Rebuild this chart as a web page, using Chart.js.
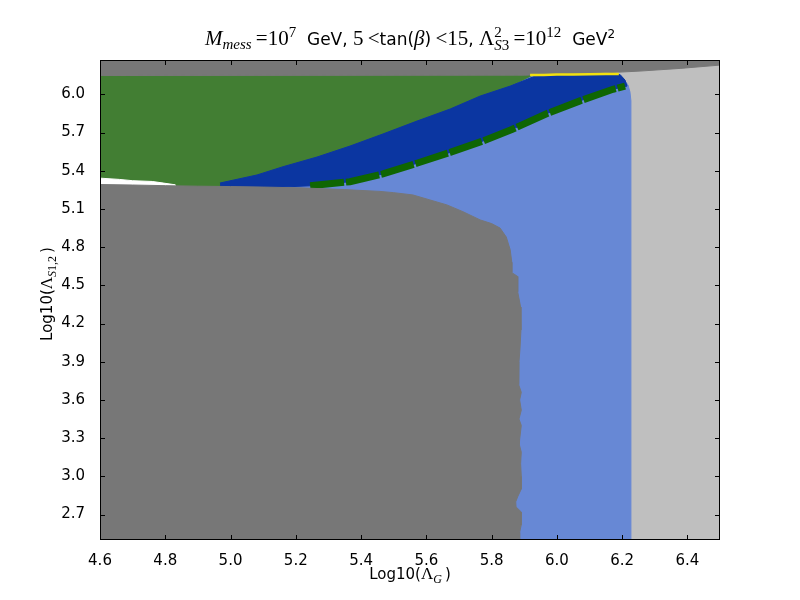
<!DOCTYPE html>
<html>
<head>
<meta charset="utf-8">
<script src="https://cdn.jsdelivr.net/npm/chart.js@4.4.1/dist/chart.umd.min.js"></script>
<style>
  html, body { margin: 0; padding: 0; background: #fff; }
</style>
</head>
<body>
<canvas id="chart" width="800" height="600"></canvas>
<script>
// axes
const xRange = [4.6, 6.5];
const yRange = [2.5, 6.27];
const xTicks = [4.6, 4.8, 5.0, 5.2, 5.4, 5.6, 5.8, 6.0, 6.2, 6.4];
const yTicks = [2.7, 3.0, 3.3, 3.6, 3.9, 4.2, 4.5, 4.8, 5.1, 5.4, 5.7, 6.0];

// region outlines: [log10(Lambda_G), log10(Lambda_S12)]
const lightGreyRegion = [[4.6,2.5],[6.5,2.5],[6.5,6.27],[4.6,6.27]];
const lightBlueRegion = [[4.6,2.5],[6.226,2.5],[6.227,5.95],[6.224,6.02],[6.218,6.073],[6.205,6.12],[6.19,6.155],[4.6,6.155]];
const greenRegion = [[4.6,6.16],[5.933,6.16],[5.857,6.065],[5.765,5.987],[5.673,5.885],[5.571,5.790],[5.467,5.689],
  [5.366,5.594],[5.265,5.508],[5.161,5.432],[5.081,5.367],[4.968,5.304],[4.968,5.2],[4.6,5.2]];
const blueBand = [[4.968,5.304],[5.081,5.367],[5.161,5.432],[5.265,5.508],[5.366,5.594],[5.467,5.689],[5.571,5.790],
  [5.673,5.885],[5.765,5.987],[5.857,6.065],[5.933,6.143],[6.0,6.155],[6.194,6.155],[6.209,6.112],[6.215,6.065],
  [6.172,6.040],[6.071,5.949],[5.970,5.850],[5.862,5.724],[5.774,5.634],[5.673,5.544],[5.571,5.459],[5.467,5.375],
  [5.366,5.314],[5.244,5.282],[4.968,5.25]];
const darkGreenBand = [[5.244,5.282],[5.366,5.314],[5.467,5.375],[5.571,5.459],[5.673,5.544],[5.774,5.634],
  [5.862,5.724],[5.970,5.850],[6.071,5.949],[6.172,6.040],[6.209,6.065]];
const whiteStrip = [[4.6,5.342],[4.66,5.332],[4.7,5.322],[4.76,5.316],[4.79,5.305],[4.83,5.29],[4.83,5.2],[4.6,5.2]];
const greyRegion = [[4.6,2.5],[4.6,5.292],[4.7,5.288],[4.8,5.283],[4.9,5.279],[5.0,5.276],[5.1,5.272],[5.213,5.266],
  [5.35,5.252],[5.458,5.238],[5.50,5.228],[5.559,5.21],[5.611,5.171],[5.663,5.132],[5.712,5.079],[5.765,5.014],
  [5.80,4.985],[5.826,4.95],[5.845,4.88],[5.857,4.78],[5.862,4.68],[5.862,4.60],[5.880,4.57],[5.880,4.45],
  [5.889,4.33],[5.890,4.15],[5.887,4.0],[5.884,3.9],[5.882,3.78],[5.884,3.72],[5.891,3.66],[5.886,3.6],
  [5.891,3.52],[5.884,3.45],[5.891,3.40],[5.886,3.29],[5.885,3.25],[5.891,3.19],[5.889,3.1],[5.891,3.0],
  [5.891,2.9],[5.880,2.84],[5.874,2.80],[5.875,2.76],[5.891,2.72],[5.891,2.62],[5.886,2.56],[5.886,2.5]];
const topStrip = [[4.6,6.27],[6.5,6.27],[6.5,6.23],[6.378,6.204],[6.255,6.183],[6.132,6.167],[5.9,6.151],[4.6,6.148]];
const yellowEdge = [[5.918,6.152],[5.96,6.153],[6.0,6.156],[6.05,6.156],[6.1,6.158],[6.15,6.16],[6.19,6.16]];

const serif = '"Liberation Serif"';
const sans = '"DejaVu Sans"';

function region(points, color) {
  return {
    data: points.map(p => ({ x: p[0], y: p[1] })),
    backgroundColor: color,
    borderColor: color,
    borderWidth: 1,
    fill: 'shape',
    pointRadius: 0,
    tension: 0
  };
}

function edge(points, color, width, dash) {
  return {
    data: points.map(p => ({ x: p[0], y: p[1] })),
    borderColor: color,
    borderWidth: width,
    borderDash: dash || [],
    borderCapStyle: 'butt',
    fill: false,
    pointRadius: 0,
    tension: 0
  };
}

// bottom layer first
const layers = [
  region(lightGreyRegion, '#bfbfbf'),
  region(lightBlueRegion, '#6788d5'),
  region(greenRegion, '#427e33'),
  region(blueBand, '#0b36a1'),
  edge(darkGreenBand, '#0f6602', 7, [34, 2]),
  region(whiteStrip, '#ffffff'),
  region(greyRegion, '#777777'),
  region(topStrip, '#777777'),
  edge(yellowEdge, '#f2e10e', 2.5)
];
layers.forEach((d, i) => { d.order = layers.length - i; });

function drawRich(ctx, parts, x, y, rotate) {
  ctx.save();
  let total = 0;
  parts.forEach(p => {
    ctx.font = p[1];
    p.w = ctx.measureText(p[0]).width;
    if (!p[3]) total += p.w;
  });
  ctx.translate(x, y);
  if (rotate) ctx.rotate(-Math.PI / 2);
  ctx.textAlign = 'left';
  ctx.textBaseline = 'alphabetic';
  ctx.fillStyle = '#000';
  let cx = -total / 2;
  parts.forEach(p => {
    ctx.font = p[1];
    ctx.fillText(p[0], cx, p[2] || 0);
    if (!p[3]) cx += p.w;
  });
  ctx.restore();
}

const frameAndText = {
  id: 'frameAndText',
  afterDraw(chart) {
    const ctx = chart.ctx;
    const a = chart.chartArea;
    const sx = chart.scales.x, sy = chart.scales.y;
    ctx.save();
    ctx.strokeStyle = '#000';
    ctx.lineWidth = 1;
    ctx.beginPath();
    xTicks.forEach(v => {
      const px = Math.round(sx.getPixelForValue(v)) + 0.5;
      ctx.moveTo(px, a.bottom); ctx.lineTo(px, a.bottom - 5);
      ctx.moveTo(px, a.top); ctx.lineTo(px, a.top + 5);
    });
    yTicks.forEach(v => {
      const py = Math.round(sy.getPixelForValue(v)) + 0.5;
      ctx.moveTo(a.left, py); ctx.lineTo(a.left + 5, py);
      ctx.moveTo(a.right, py); ctx.lineTo(a.right - 5, py);
    });
    ctx.stroke();
    ctx.strokeRect(a.left + 0.5, a.top + 0.5, a.right - a.left - 1, a.bottom - a.top - 1);
    ctx.restore();

    const T = `21px ${serif}`, Ti = `italic 21px ${serif}`, s = `15px ${serif}`, si = `italic 15px ${serif}`;
    const S = `17px ${sans}`;
    drawRich(ctx, [
      ['M', Ti], ['mess', si, 4], ['\u2009=', T], ['10', T], ['7', s, -8],
      ['  GeV, ', S], ['5\u2009<', T], ['tan(', S], ['\u03b2', Ti], [')', S],
      ['\u2009<15', T], [', ', S], ['\u039b', T], ['2', s, -8, true], ['S', si, 5], ['3', s, 5],
      ['\u2009=10', T], ['12', s, -8], ['  GeV', S], ['2', `12px ${sans}`, -7]
    ], (a.left + a.right) / 2, 45);

    drawRich(ctx, [
      ['Log10(', `15px ${sans}`], ['\u039b', `17px ${serif}`], ['G', `italic 12px ${serif}`, 4], ['\u2009)', `15px ${sans}`]
    ], (a.left + a.right) / 2, 579);

    drawRich(ctx, [
      ['Log10(', `15px ${sans}`], ['\u039b', `17px ${serif}`], ['S', `italic 12px ${serif}`, 4],
      ['1,2', `12px ${serif}`, 4], ['\u2009)', `15px ${sans}`]
    ], 52, (a.top + a.bottom) / 2 - 6, true);
  }
};

new Chart(document.getElementById('chart'), {
  type: 'line',
  data: { datasets: layers },
  options: {
    responsive: false,
    animation: false,
    devicePixelRatio: 1,
    layout: { padding: { left: 0, right: 80, top: 60, bottom: 0 } },
    plugins: { legend: { display: false }, tooltip: { enabled: false }, title: { display: false } },
    scales: {
      x: {
        type: 'linear', min: xRange[0], max: xRange[1],
        grid: { display: false }, border: { display: false },
        ticks: { color: '#000', font: { family: 'DejaVu Sans', size: 15 }, padding: 4, maxRotation: 0, autoSkip: false,
          callback: v => v.toFixed(1) },
        afterBuildTicks: s => { s.ticks = xTicks.map(v => ({ value: v })); },
        afterFit: s => { s.height = 60; }
      },
      y: {
        type: 'linear', min: yRange[0], max: yRange[1],
        grid: { display: false }, border: { display: false },
        ticks: { color: '#000', font: { family: 'DejaVu Sans', size: 15 }, padding: 7, autoSkip: false,
          callback: v => v.toFixed(1) },
        afterBuildTicks: s => { s.ticks = yTicks.map(v => ({ value: v })); },
        afterFit: s => { s.width = 100; }
      }
    }
  },
  plugins: [frameAndText]
});
</script>
</body>
</html>
